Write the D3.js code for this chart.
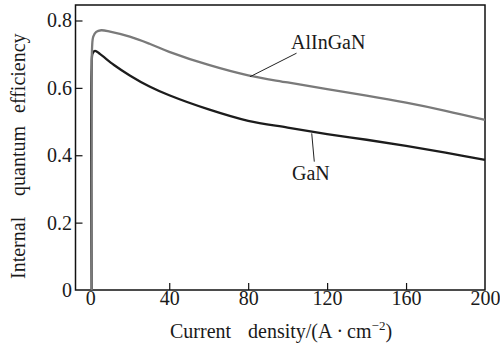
<!DOCTYPE html>
<html>
<head>
<meta charset="utf-8">
<script src="https://cdn.jsdelivr.net/npm/d3@7/dist/d3.min.js"></script>
<style>
  html, body { margin: 0; padding: 0; background: #fff; }
  svg { display: block; }
  svg text { font-family: "Liberation Serif", serif !important; }
</style>
</head>
<body>
<svg id="chart" width="500" height="349"></svg>
<script>
// ---- data ----
const alinganJ = [0.7, 0.7, 0.9, 1.5, 3, 5.5, 10, 20, 30, 40, 60, 80, 100, 120, 140, 160, 180, 200];
const alinganE = [0, 0.60, 0.72, 0.752, 0.766, 0.771, 0.767, 0.752, 0.731, 0.707, 0.668, 0.637, 0.616, 0.596, 0.577, 0.556, 0.532, 0.505];
const ganJ = [0.7, 0.7, 1.2, 2.4, 5, 12, 20, 30, 40, 60, 80, 100, 120, 140, 160, 180, 200];
const ganE = [0, 0.66, 0.703, 0.710, 0.700, 0.668, 0.637, 0.604, 0.578, 0.536, 0.502, 0.482, 0.463, 0.446, 0.428, 0.408, 0.386];
const xTicks = [0, 40, 80, 120, 160, 200];
const yTicks = [0, 0.2, 0.4, 0.6, 0.8];
const seriesNames = ["AlInGaN", "GaN"];

const FONT = "Liberation Serif";
const svg = d3.select("#chart").style("font-family", FONT);
const L = 75.5, R = 485, T = 5, B = 290;
const x = d3.scaleLinear().domain([-7.5, 200]).range([L, R]);
const y = d3.scaleLinear().domain([0, 0.846]).range([B, T]);

// frame
svg.append("rect").attr("x", L).attr("y", T).attr("width", R - L).attr("height", B - T)
  .attr("fill", "none").attr("stroke", "#111").attr("stroke-width", 1.5);

// x axis (inward ticks)
const xAxis = d3.axisBottom(x).tickValues(xTicks).tickSizeInner(-7).tickSizeOuter(0).tickPadding(1)
  .tickFormat(d3.format("d"));
const gx = svg.append("g").attr("transform", `translate(0,${B})`).call(xAxis)
  .attr("font-family", null).attr("font-size", 20);
gx.select(".domain").remove();
gx.selectAll(".tick line").attr("stroke", "#111").attr("stroke-width", 1.2)
  .filter(d => d === 200 || d === 0).remove();
gx.selectAll(".tick text").attr("fill", "#1a1a1a").style("font-family", FONT);

// y axis (inward ticks)
const yAxis = d3.axisLeft(y).tickValues(yTicks).tickSizeInner(-7).tickSizeOuter(0).tickPadding(3.5)
  .tickFormat(d => d === 0 ? "0" : d3.format(".1f")(d));
const gy = svg.append("g").attr("transform", `translate(${L},0)`).call(yAxis)
  .attr("font-family", null).attr("font-size", 20);
gy.select(".domain").remove();
gy.selectAll(".tick line").attr("stroke", "#111").attr("stroke-width", 1.2)
  .filter(d => d === 0).remove();
gy.selectAll(".tick text").attr("fill", "#1a1a1a").style("font-family", FONT);

// curves
const line = d3.line().x(d => x(d[0])).y(d => y(d[1])).curve(d3.curveCatmullRom.alpha(0.5));
const ganPts = ganJ.map((j, i) => [j, ganE[i]]);
const alPts = alinganJ.map((j, i) => [j, alinganE[i]]);
svg.append("path").datum(ganPts).attr("d", line)
  .attr("fill", "none").attr("stroke", "#1c1c1c").attr("stroke-width", 2.3);
svg.append("path").datum(alPts).attr("d", line)
  .attr("fill", "none").attr("stroke", "#7a7a7a").attr("stroke-width", 2.3);

// annotations
svg.append("line").attr("x1", x(80.9)).attr("y1", y(0.633)).attr("x2", x(104.5)).attr("y2", y(0.703))
  .attr("stroke", "#222").attr("stroke-width", 1);
svg.append("text").attr("x", x(101.7)).attr("y", y(0.715)).attr("font-size", 20).attr("fill", "#1a1a1a")
  .style("font-family", FONT).text(seriesNames[0]);
svg.append("line").attr("x1", x(112.2)).attr("y1", y(0.465)).attr("x2", x(113.5)).attr("y2", y(0.381))
  .attr("stroke", "#222").attr("stroke-width", 1);
svg.append("text").attr("x", x(102.2)).attr("y", y(0.326)).attr("font-size", 20).attr("fill", "#1a1a1a")
  .style("font-family", FONT).text(seriesNames[1]);

// x title
const xt = svg.append("text").attr("y", 338).attr("font-size", 20).attr("fill", "#1a1a1a")
  .style("font-family", FONT);
xt.append("tspan").attr("x", 170).text("Current");
xt.append("tspan").attr("x", 248).text("density/(A\u2009\u00b7\u2009cm");
xt.append("tspan").attr("font-size", 13).attr("dy", -8).text("\u22122");
xt.append("tspan").attr("dy", 8).text(")");

// y title
const yt = svg.append("text").attr("transform", "translate(25,0) rotate(-90)").attr("font-size", 20)
  .attr("fill", "#1a1a1a").style("font-family", FONT);
yt.append("tspan").attr("x", -279).text("Internal");
yt.append("tspan").attr("x", -196).text("quantum");
yt.append("tspan").attr("x", -113).text("efficiency");
</script>
</body>
</html>
